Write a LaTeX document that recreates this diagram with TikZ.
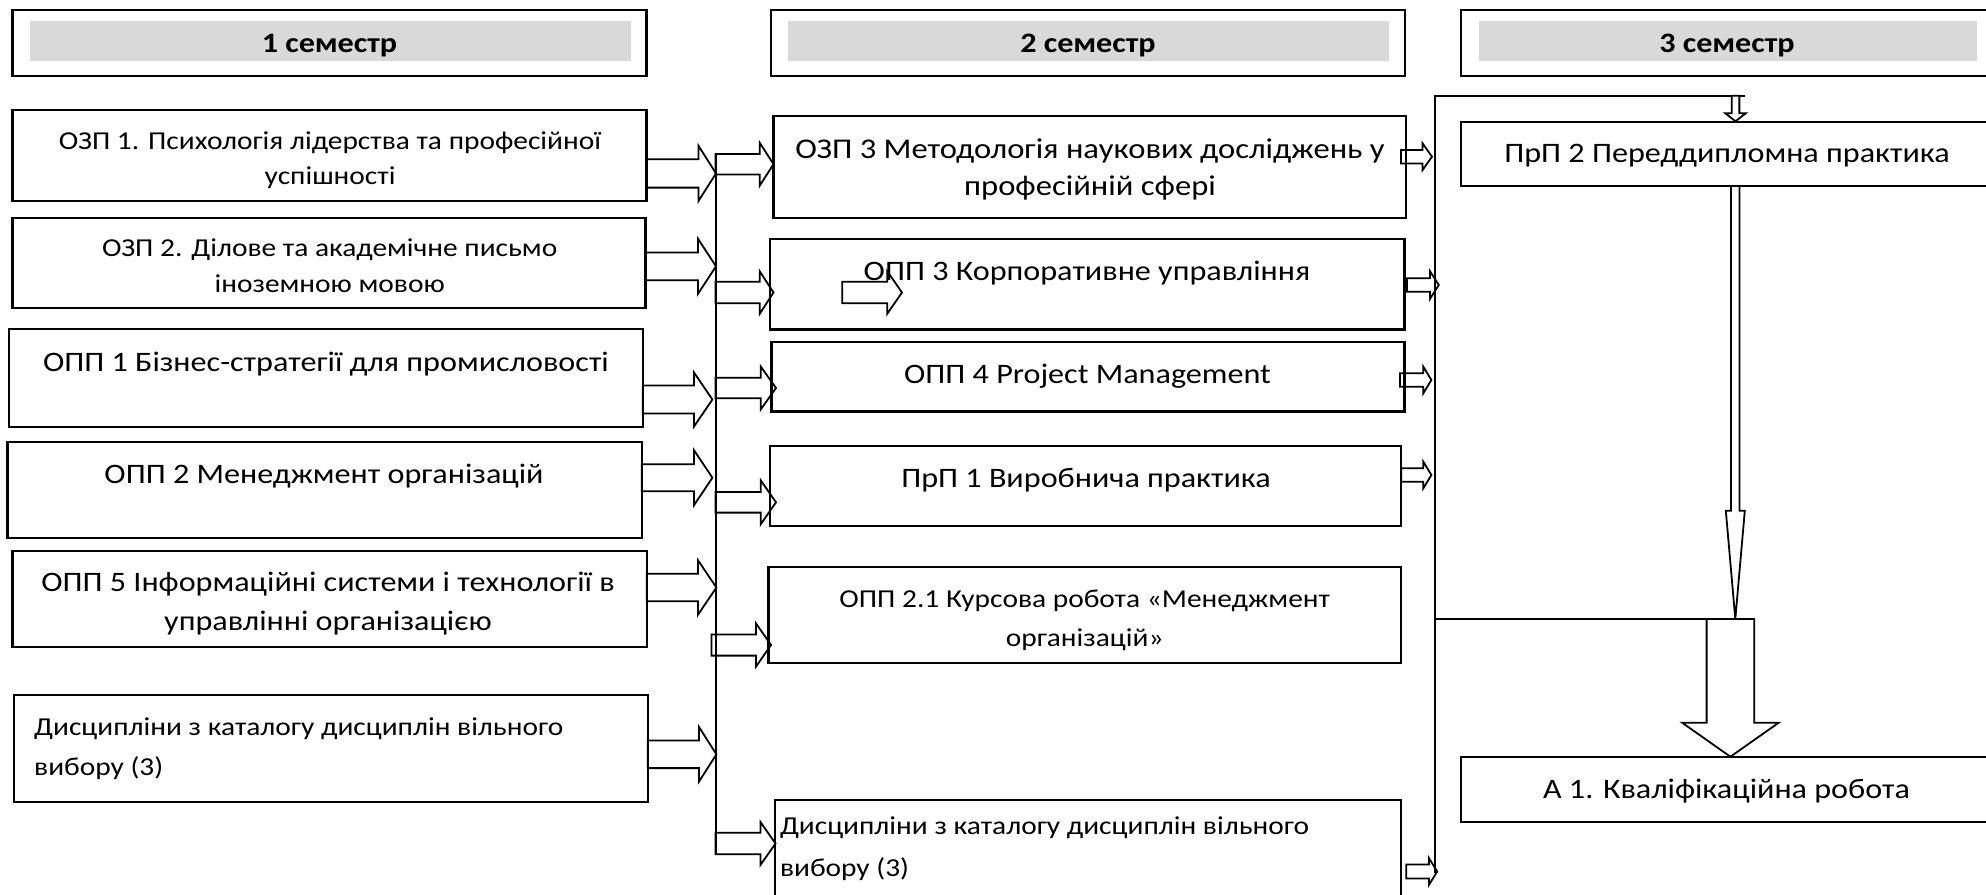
\documentclass[tikz,border=0pt]{standalone}
\usepackage{fontspec}
\setmainfont{Carlito}[FakeStretch=1.14]
\definecolor{hdrgray}{HTML}{D9D9D9}
\tikzset{
  boxnode/.style={draw=black, line width=1.1pt, inner sep=0pt, outer sep=0pt, rectangle},
  arrline/.style={draw=black, line width=0.9pt, line join=miter},
  busline/.style={draw=black, line width=1pt},
  txt/.style={anchor=base, inner sep=0pt, font=\fontsize{14.1}{16}\selectfont},
  txtsm/.style={anchor=base, inner sep=0pt, font=\fontsize{12.9}{15}\selectfont},
  txtl/.style={txtsm, anchor=base west},
  hdr/.style={anchor=base, inner sep=0pt, font=\bfseries\fontsize{14.1}{17}\selectfont},
}
\newcommand\mkbox[5]{\node[boxnode, anchor=north west, minimum width={(#4-#2)*0.5pt}, minimum height={(#5-#3)*0.5pt}] (#1) at (#2,#3) {};}
\newcommand\mkgray[5]{\node[fill=hdrgray, inner sep=0pt, outer sep=0pt, anchor=north west, minimum width={(#4-#2)*0.5pt}, minimum height={(#5-#3)*0.5pt}] (#1) at (#2,#3) {};}
% right block arrow: tail x, head-base x, tip x, centre y, shaft half, head half
\newcommand\rarrow[6]{\draw[arrline] (#1,{#4-#5}) -- (#2,{#4-#5}) -- (#2,{#4-#6}) -- (#3,#4) -- (#2,{#4+#6}) -- (#2,{#4+#5}) -- (#1,{#4+#5}) -- cycle;}
% down block arrow: top y, head-base y, tip y, centre x, shaft half, head half
\newcommand\darrow[6]{\draw[arrline, fill=white] ({#4-#5},#1) -- ({#4-#5},#2) -- ({#4-#6},#2) -- (#4,#3) -- ({#4+#6},#2) -- ({#4+#5},#2) -- ({#4+#5},#1) -- cycle;}
\begin{document}
\begin{tikzpicture}[x=0.5pt,y=-0.5pt]
\useasboundingbox (0,0) rectangle (1986,894);
% headers
\mkbox{h1}{12.5}{10}{646.4}{76}
\mkgray{g1}{29.5}{21}{631}{61}
\mkbox{h2}{771}{10}{1405}{76}
\mkgray{g2}{787.8}{21}{1388.5}{61}
\mkbox{h3}{1461}{10}{2000}{76}
\mkgray{g3}{1478.6}{21}{1977}{61}
\node[hdr] (h1t) at (329.5,52.3) {1 семестр};
\node[hdr] (h2t) at (1088,52.3) {2 семестр};
\node[hdr] (h3t) at (1727,52.3) {3 семестр};
% column 1
\mkbox{ozp1}{12.5}{110}{646.4}{201}
\mkbox{ozp2}{12.5}{217.7}{645.5}{308}
\mkbox{opp1}{9}{329.3}{642.7}{427.3}
\mkbox{opp2}{7.5}{441.7}{641.8}{538.3}
\mkbox{opp5}{12.4}{551}{646.8}{646.7}
\mkbox{dys1}{14}{695}{647.8}{802.3}
% column 2
\mkbox{ozp3}{773.5}{115.7}{1406.3}{217.7}
\mkbox{opp3}{770}{239}{1404.4}{329.5}
\mkbox{opp4}{771.4}{342}{1404.4}{411.5}
\mkbox{prp1}{770}{446}{1401.3}{526}
\mkbox{opp21}{768.4}{567}{1401.3}{662.7}
\mkbox{dys2}{775}{800}{1401.3}{910}
% column 3
\mkbox{prp2}{1461}{121.7}{2000}{186}
\mkbox{a1}{1461}{757.3}{2000}{822.3}
% texts
\node[txtsm] (ozp1a) at (330,149) {ОЗП 1. Психологія лідерства та професійної};
\node[txtsm] (ozp1b) at (330,184.3) {успішності};
\node[txtsm] (ozp2a) at (329.7,256.7) {ОЗП 2. Ділове та академічне письмо};
\node[txtsm] (ozp2b) at (329.7,292.7) {іноземною мовою};
\node[txt] (opp1a) at (326,371) {ОПП 1 Бізнес-стратегії для промисловості};
\node[txt] (opp2a) at (324,483.3) {ОПП 2 Менеджмент організацій};
\node[txt] (opp5a) at (328,591.7) {ОПП 5 Інформаційні системи і технології в};
\node[txt] (opp5b) at (328,630.7) {управлінні організацією};
\node[txtl] (dys1a) at (33.8,735) {Дисципліни з каталогу дисциплін вільного};
\node[txtl] (dys1b) at (33.8,775) {вибору (3)};
\node[txt, font=\fontsize{14.3}{16}\selectfont] (ozp3a) at (1090,158.3) {ОЗП 3 Методологія наукових досліджень у};
\node[txt, font=\fontsize{14.3}{16}\selectfont] (ozp3b) at (1090,195) {професійній сфері};
\node[txt] (opp3a) at (1087,280) {ОПП 3 Корпоративне управління};
\node[txt] (opp4a) at (1087.5,383.2) {ОПП 4 Project Management};
\node[txt] (prp1a) at (1086,487.2) {ПрП 1 Виробнича практика};
\node[txtsm] (opp21a) at (1084.7,607.7) {ОПП 2.1 Курсова робота «Менеджмент};
\node[txtsm] (opp21b) at (1084.7,646.5) {організацій»};
\node[txtl] (dys2a) at (779.6,834.3) {Дисципліни з каталогу дисциплін вільного};
\node[txtl] (dys2b) at (779.6,876) {вибору (3)};
\node[txt] (prp2a) at (1727,162.3) {ПрП 2 Переддипломна практика};
\node[txt] (a1a) at (1726.5,798.3) {А 1. Кваліфікаційна робота};
% bus lines
\coordinate (b1top) at (715.5,154);
\coordinate (b1bot) at (715.5,855);
\draw[busline] (b1top) -- (b1bot);
\coordinate (b2end) at (1745,95.7);
\coordinate (b2corner) at (1435,95.7);
\coordinate (b2bot) at (1435,873);
\draw[busline] (b2end) -- (b2corner) -- (b2bot);
\coordinate (b2mid) at (1435,619);
\coordinate (b2midr) at (1754.2,619);
\draw[busline] (b2mid) -- (b2midr);
% column 1 -> bus 1
\rarrow{646}{698.5}{716}{173.4}{14.2}{27.6}
\rarrow{645.5}{698}{716}{266.3}{13.9}{27.5}
\rarrow{642.7}{694}{712.4}{399.5}{14}{27}
\rarrow{641.8}{694}{712.4}{477.7}{13.5}{27.5}
\rarrow{646.8}{698}{716.4}{587.5}{13.7}{27.2}
\rarrow{647.8}{699}{716.4}{754.3}{13.8}{27.3}
% bus 1 -> column 2
\rarrow{715.5}{759.7}{773.5}{164.2}{10.2}{21.5}
\rarrow{715.5}{759.7}{773.5}{292.5}{10.8}{21.3}
\rarrow{715.5}{760.7}{776}{388}{10.3}{21.5}
\rarrow{715.5}{760.7}{776}{502.3}{10.3}{22}
\rarrow{711.4}{756}{771}{645}{10.6}{21.6}
\rarrow{715.5}{760.5}{775.5}{843.5}{10.8}{21.4}
\rarrow{842.3}{887.2}{902}{292.5}{10.8}{21.3}
% column 2 -> bus 2
\rarrow{1401}{1422.5}{1432}{156.7}{6.7}{13.4}
\rarrow{1407}{1430}{1438.8}{285}{6.7}{13.8}
\rarrow{1400}{1423.3}{1431.4}{380}{6.7}{13.3}
\rarrow{1401.3}{1423.3}{1431.4}{475}{6.7}{13.3}
\rarrow{1406.3}{1429}{1437.2}{871.5}{7}{13.3}
% downward arrows
\darrow{95.7}{113.3}{121.3}{1735.5}{3.85}{10.2}
\darrow{186}{510.7}{619}{1735.3}{4.25}{9.5}
\darrow{619}{722.7}{756.7}{1730.4}{23.8}{48.3}
\end{tikzpicture}
\end{document}
